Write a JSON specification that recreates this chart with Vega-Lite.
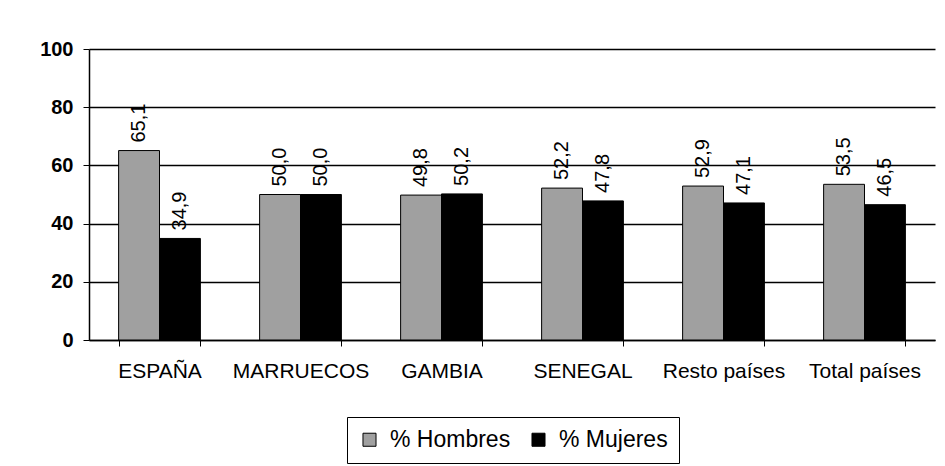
{
  "$schema": "https://vega.github.io/schema/vega-lite/v6.json",
  "autosize": "none",
  "width": 846,
  "height": 291,
  "padding": {"left": 89, "top": 49, "right": 10, "bottom": 126},
  "background": "white",
  "config": {
    "locale": {"number": {"decimal": ",", "thousands": ".", "grouping": [3], "currency": ["", " €"]}},
    "font": "Liberation Sans",
    "view": {"stroke": null},
    "axis": {"labelColor": "black", "domainColor": "black", "tickColor": "black", "gridColor": "black", "gridOpacity": 1, "labelFont": "Liberation Sans"}
  },
  "data": {
    "values": [
      {"pais": "ESPAÑA", "sexo": "% Hombres", "valor": 65.1},
      {"pais": "ESPAÑA", "sexo": "% Mujeres", "valor": 34.9},
      {"pais": "MARRUECOS", "sexo": "% Hombres", "valor": 50.0},
      {"pais": "MARRUECOS", "sexo": "% Mujeres", "valor": 50.0},
      {"pais": "GAMBIA", "sexo": "% Hombres", "valor": 49.8},
      {"pais": "GAMBIA", "sexo": "% Mujeres", "valor": 50.2},
      {"pais": "SENEGAL", "sexo": "% Hombres", "valor": 52.2},
      {"pais": "SENEGAL", "sexo": "% Mujeres", "valor": 47.8},
      {"pais": "Resto países", "sexo": "% Hombres", "valor": 52.9},
      {"pais": "Resto países", "sexo": "% Mujeres", "valor": 47.1},
      {"pais": "Total países", "sexo": "% Hombres", "valor": 53.5},
      {"pais": "Total países", "sexo": "% Mujeres", "valor": 46.5}
    ]
  },
  "encoding": {
    "x": {
      "field": "pais", "type": "nominal", "sort": null, "title": null,
      "scale": {"paddingInner": 0.42, "paddingOuter": 0.21},
      "axis": {"labelAngle": 0, "labelFontSize": 21, "tickBand": "extent", "tickSize": 6, "labelPadding": 14, "domainWidth": 1.5}
    },
    "xOffset": {"field": "sexo", "type": "nominal", "sort": ["% Hombres", "% Mujeres"]},
    "y": {
      "field": "valor", "type": "quantitative", "title": null,
      "scale": {"domain": [0, 100], "nice": false},
      "axis": {"values": [0, 20, 40, 60, 80, 100], "labelFontSize": 20, "labelFontWeight": "bold", "tickSize": 6, "labelPadding": 10, "gridWidth": 1.3, "domainWidth": 1.5}
    }
  },
  "layer": [
    {
      "mark": {"type": "bar", "stroke": "black", "strokeWidth": 1},
      "encoding": {
        "color": {
          "field": "sexo", "type": "nominal", "title": null,
          "scale": {"domain": ["% Hombres", "% Mujeres"], "range": ["#a0a0a0", "#000000"]},
          "legend": {
            "orient": "none", "legendX": 258, "legendY": 368, "direction": "horizontal",
            "strokeColor": "black", "padding": 11, "labelFontSize": 23, "labelColor": "black",
            "symbolType": "square", "symbolSize": 170, "symbolStrokeColor": "black", "symbolStrokeWidth": 1,
            "columnPadding": 16, "labelOffset": 9
          }
        }
      }
    },
    {
      "mark": {"type": "text", "angle": 270, "align": "left", "baseline": "middle", "dx": 8, "fontSize": 20, "color": "black"},
      "encoding": {
        "text": {"field": "valor", "type": "quantitative", "format": ".1f"}
      }
    }
  ]
}
